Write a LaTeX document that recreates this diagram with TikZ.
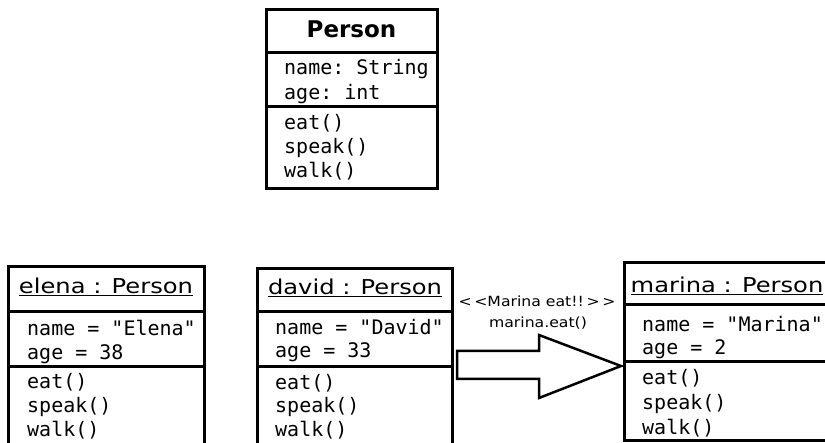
\documentclass[tikz,border=0pt]{standalone}
\usepackage{fontspec}
\setmainfont{DejaVu Sans}
\setmonofont{DejaVu Sans Mono}
\begin{document}
\begin{tikzpicture}[x=1pt,y=-1pt,
  box/.style={line width=3pt, line join=miter},
  row/.style={anchor=base west, inner sep=0pt, font=\ttfamily\fontsize{20}{24}\selectfont},
  objtitle/.style={anchor=base, inner sep=0pt, font=\fontsize{20.5}{22}\selectfont},
  clstitle/.style={anchor=base, inner sep=0pt, font=\bfseries\fontsize{23}{26}\selectfont},
  msg/.style={anchor=base, inner sep=0pt, font=\fontsize{14}{16}\selectfont}]
\useasboundingbox (0,0) rectangle (825,443);
\clip (0,0) rectangle (825,443);
\fill[white] (0,0) rectangle (825,443);

% class Person
\draw[box] (266,10) rectangle (437,189);
\draw[box] (266,53) -- (437,53);
\draw[box] (266,107) -- (437,107);
\node[clstitle] (pt) at (351.5,38) {Person};
\node[row] (p1) at (284,75) {name: String};
\node[row] (p2) at (284,100) {age: int};
\node[row] (p3) at (284,130) {eat()};
\node[row] (p4) at (284,154) {speak()};
\node[row] (p5) at (284,178) {walk()};

% object elena
\draw[box] (8,460) -- (8,267) -- (204,267) -- (204,460);
\draw[box] (8,312) -- (204,312);
\draw[box] (8,367) -- (204,367);
\node[objtitle] (et) at (106,294) {\scalebox{1.18}[1]{\underline{elena : Person}}};
\node[row] (e1) at (27,336) {name = "Elena"};
\node[row] (e2) at (27,360) {age = 38};
\node[row] (e3) at (27,389) {eat()};
\node[row] (e4) at (27,413) {speak()};
\node[row] (e5) at (27,437) {walk()};

% object david
\draw[box] (257,460) -- (257,269) -- (452,269) -- (452,460);
\draw[box] (257,312) -- (452,312);
\draw[box] (257,367) -- (452,367);
\node[objtitle] (dt) at (355,295) {\scalebox{1.18}[1]{\underline{david : Person}}};
\node[row] (d1) at (275,335) {name = "David"};
\node[row] (d2) at (275,358) {age = 33};
\node[row] (d3) at (275,390) {eat()};
\node[row] (d4) at (275,413) {speak()};
\node[row] (d5) at (275,437) {walk()};

% object marina
\draw[box] (845,263) -- (624,263) -- (624,441) -- (845,441);
\draw[box] (624,305) -- (845,305);
\draw[box] (624,362) -- (845,362);
\node[objtitle] (mt) at (727,293) {\scalebox{1.18}[1]{\underline{marina : Person}}};
\node[row] (m1) at (642,332) {name = "Marina"};
\node[row] (m2) at (642,355) {age = 2};
\node[row] (m3) at (642,385) {eat()};
\node[row] (m4) at (642,410) {speak()};
\node[row] (m5) at (642,435) {walk()};

% message
\node[msg] (l1) at (537,306.5) {\scalebox{1.12}[1]{{<}\,{<}Marina eat!!\,{>}\,{>}}};
\node[msg] (l2) at (538,328) {\scalebox{1.12}[1]{marina.eat()}};
\draw[line width=2.5pt, line join=miter, fill=white]
  (457,351) -- (539,351) -- (539,335) -- (621,366) -- (539,398) -- (539,379) -- (457,379) -- cycle;
\end{tikzpicture}
\end{document}
